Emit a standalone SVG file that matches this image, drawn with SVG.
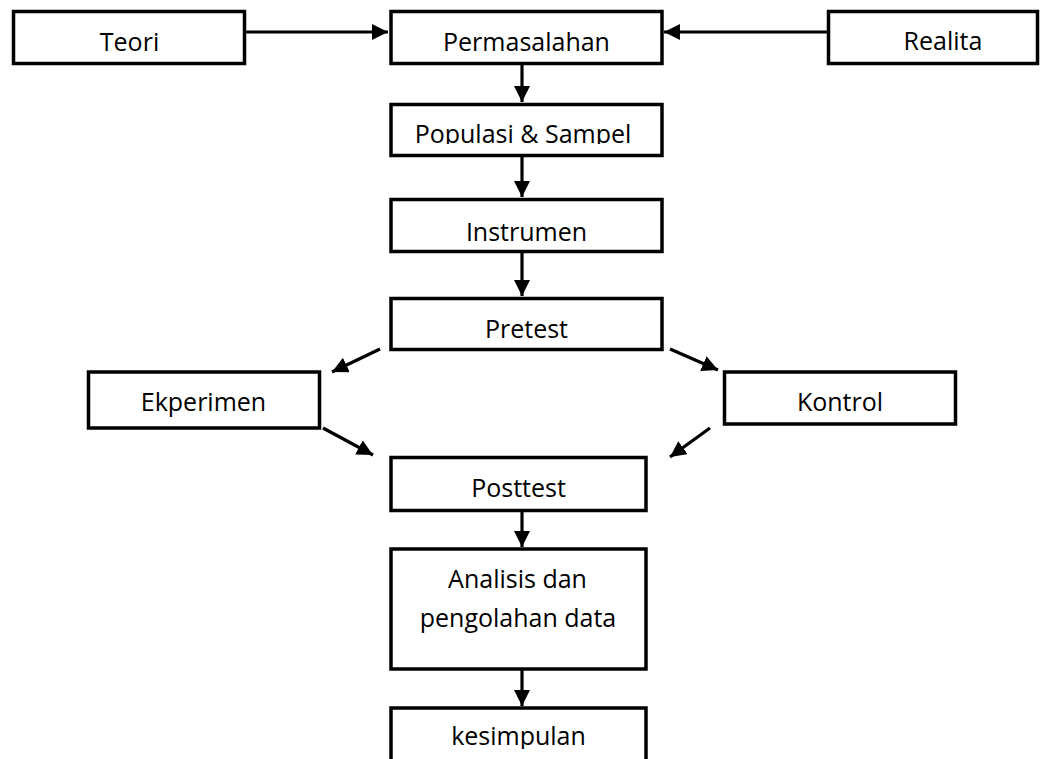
<svg xmlns="http://www.w3.org/2000/svg" width="1050" height="759" viewBox="0 0 1050 759">
<style>
.box{fill:#fff;stroke:#000;stroke-width:3.5}
.lbl{font-family:"Open Sans","Noto Sans","Liberation Sans",sans-serif;font-size:25px;fill:#000;text-anchor:middle}
.con{stroke:#000;stroke-width:3.2;fill:none;marker-end:url(#ah)}
</style>
<defs>
<marker id="ah" markerUnits="userSpaceOnUse" markerWidth="18" markerHeight="18" refX="16" refY="8" orient="auto">
<path d="M0,0 L16,8 L0,16 z" fill="#000"/>
</marker>
<clipPath id="clipPop"><rect x="391" y="104" width="271" height="40"/></clipPath>
<clipPath id="clipKes"><rect x="391" y="708" width="255" height="41"/></clipPath>
</defs>
<rect width="1050" height="759" fill="#fff"/>
<g id="connectors">
<path class="con" d="M246,32 L388,32"/>
<path class="con" d="M827,32 L664,32"/>
<path class="con" d="M522,64 L522,102"/>
<path class="con" d="M522,157 L522,197"/>
<path class="con" d="M522,253 L522,296"/>
<path class="con" d="M380,349 L332,372"/>
<path class="con" d="M323,428 L373,455"/>
<path class="con" d="M670,349 L718,370"/>
<path class="con" d="M710,428 L670,457"/>
<path class="con" d="M522,512 L522,547"/>
<path class="con" d="M522,670 L522,706"/>
</g>
<g id="teori"><rect class="box" x="13.5" y="11.5" width="231" height="52"/><text class="lbl" x="129.5" y="51">Teori</text></g>
<g id="permasalahan"><rect class="box" x="391" y="11.5" width="271" height="52"/><text class="lbl" x="526.5" y="51">Permasalahan</text></g>
<g id="realita"><rect class="box" x="828.5" y="11.5" width="209" height="52"/><text class="lbl" x="943" y="50">Realita</text></g>
<g id="populasi"><rect class="box" x="391" y="104.5" width="271" height="51"/><text class="lbl" x="523" y="143" clip-path="url(#clipPop)">Populasi &amp; Sampel</text></g>
<g id="instrumen"><rect class="box" x="391" y="199.5" width="271" height="52"/><text class="lbl" x="526.5" y="241">Instrumen</text></g>
<g id="pretest"><rect class="box" x="391" y="298.5" width="271" height="51"/><text class="lbl" x="526.5" y="338">Pretest</text></g>
<g id="ekperimen"><rect class="box" x="88.5" y="372" width="231" height="56"/><text class="lbl" x="203.5" y="411">Ekperimen</text></g>
<g id="kontrol"><rect class="box" x="724.5" y="372" width="231" height="52"/><text class="lbl" x="840" y="411">Kontrol</text></g>
<g id="posttest"><rect class="box" x="391" y="457.5" width="255" height="53"/><text class="lbl" x="518.5" y="497">Posttest</text></g>
<g id="analisis"><rect class="box" x="391" y="549" width="255" height="120"/><text class="lbl" x="517.5" y="588">Analisis dan</text><text class="lbl" x="518" y="627">pengolahan data</text></g>
<g id="kesimpulan"><rect class="box" x="391" y="708" width="255" height="70"/><text class="lbl" x="518.5" y="745" clip-path="url(#clipKes)">kesimpulan</text></g>
</svg>
